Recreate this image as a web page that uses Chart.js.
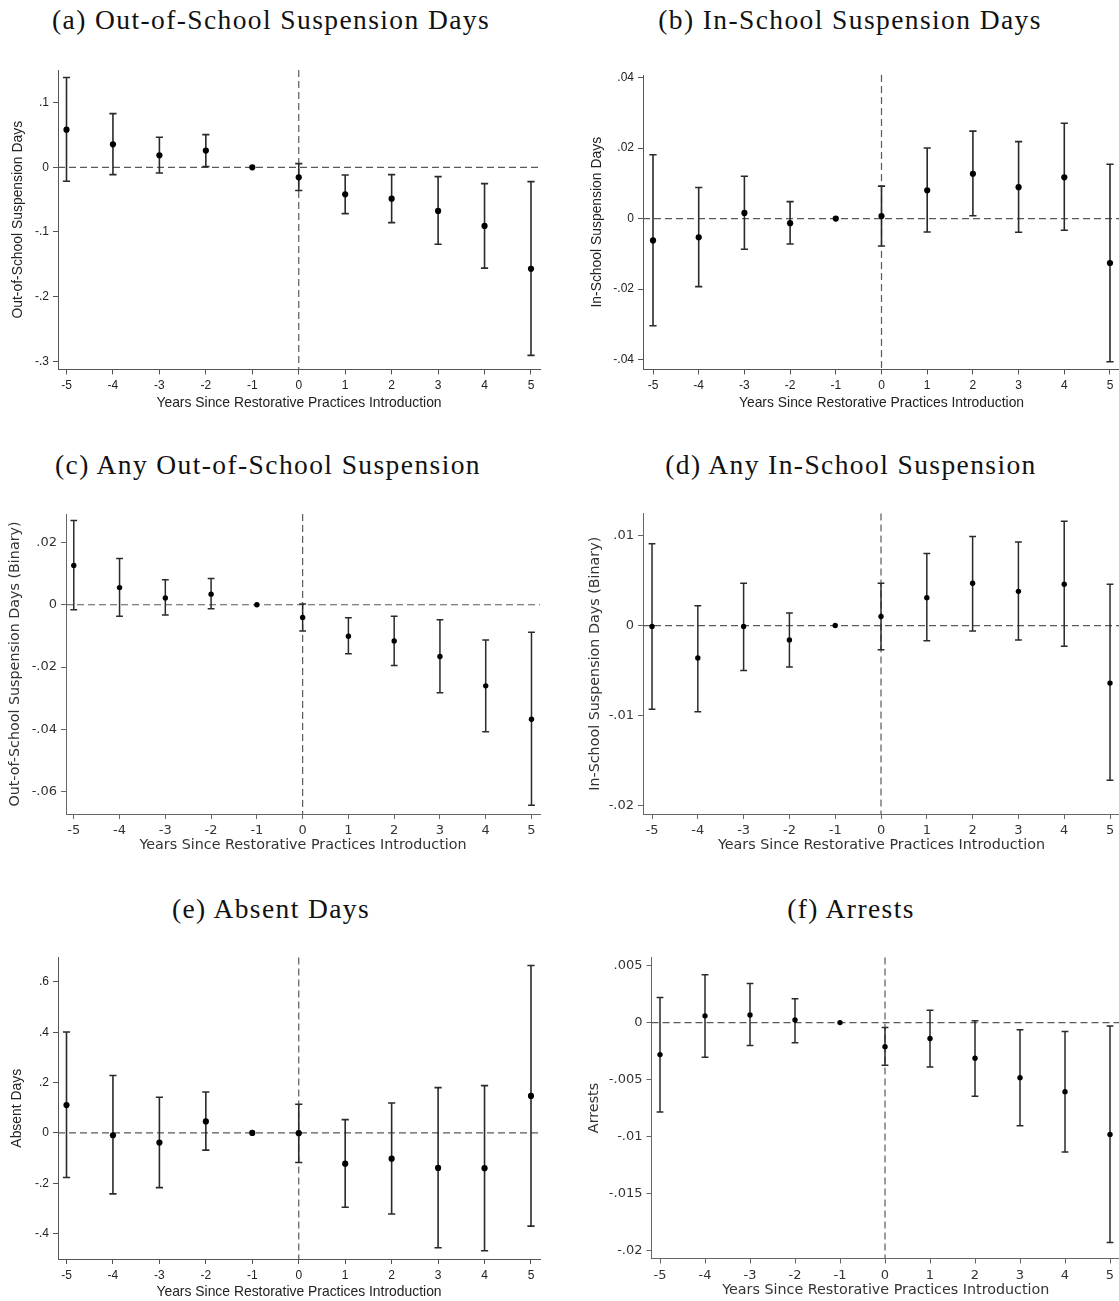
<!DOCTYPE html>
<html><head><meta charset="utf-8">
<script src="https://cdn.jsdelivr.net/npm/chart.js@4.4.1/dist/chart.umd.min.js"></script>
<style>
html,body{margin:0;padding:0;background:#fff;width:1119px;height:1301px;overflow:hidden;position:relative;}
canvas{position:absolute;}
.ttl{position:absolute;font-family:'Liberation Serif','Times New Roman',serif;font-size:27.5px;letter-spacing:1.4px;color:#111;white-space:nowrap;transform:translate(-50%,-50%);}
</style></head><body>
<div class="ttl" style="left:271px;top:20px">(a) Out-of-School Suspension Days</div>
<div class="ttl" style="left:850px;top:20px">(b) In-School Suspension Days</div>
<div class="ttl" style="left:268px;top:465px">(c) Any Out-of-School Suspension</div>
<div class="ttl" style="left:851px;top:465px">(d) Any In-School Suspension</div>
<div class="ttl" style="left:271px;top:909px">(e) Absent Days</div>
<div class="ttl" style="left:851px;top:909px">(f) Arrests</div>
<canvas id="cA"></canvas><canvas id="cB"></canvas><canvas id="cC"></canvas>
<canvas id="cD"></canvas><canvas id="cE"></canvas><canvas id="cF"></canvas>
<script>
// ---------- DATA ----------
const years = [-5,-4,-3,-2,-1,0,1,2,3,4,5];
const xTitle = 'Years Since Restorative Practices Introduction';

const oosDaysEst = [0.0582, 0.0356, 0.0186, 0.0258, 0, -0.0155, -0.0418, -0.0485, -0.0675, -0.0907, -0.157];
const oosDaysLo  = [-0.0216, -0.0113, -0.0088, 0.001, 0, -0.036, -0.0716, -0.0856, -0.119, -0.156, -0.291];
const oosDaysHi  = [0.139, 0.083, 0.0464, 0.0505, 0, 0.0057, -0.0119, -0.0113, -0.0144, -0.0253, -0.0222];
const oosDaysTicks = [0.1, 0, -0.1, -0.2, -0.3];

const issDaysEst = [-0.0062, -0.0053, 0.0016, -0.0013, 0, 0.0007, 0.008, 0.0127, 0.0089, 0.0117, -0.0126];
const issDaysLo  = [-0.0304, -0.0193, -0.0087, -0.0072, 0, -0.0078, -0.0038, 0.0008, -0.0039, -0.0033, -0.0406];
const issDaysHi  = [0.0181, 0.0088, 0.012, 0.0048, 0, 0.0092, 0.020, 0.0248, 0.0218, 0.027, 0.0154];
const issDaysTicks = [0.04, 0.02, 0, -0.02, -0.04];

const anyOosEst = [0.0126, 0.0055, 0.0022, 0.0034, 0, -0.0041, -0.0101, -0.0116, -0.0166, -0.026, -0.0367];
const anyOosLo  = [-0.0016, -0.0037, -0.0033, -0.0013, 0, -0.0084, -0.0157, -0.0195, -0.0282, -0.0407, -0.0643];
const anyOosHi  = [0.027, 0.0148, 0.008, 0.0084, 0, 0.0002, -0.0042, -0.0037, -0.0048, -0.0113, -0.0088];
const anyOosTicks = [0.02, 0, -0.02, -0.04, -0.06];

const anyIssEst = [-0.0001, -0.0036, -0.0001, -0.0016, 0, 0.001, 0.0031, 0.0047, 0.0038, 0.0046, -0.0064];
const anyIssLo  = [-0.0093, -0.0096, -0.005, -0.0046, 0, -0.0027, -0.0017, -0.0006, -0.0016, -0.0023, -0.0172];
const anyIssHi  = [0.0091, 0.0022, 0.0047, 0.0014, 0, 0.0047, 0.008, 0.0099, 0.0093, 0.0116, 0.0046];
const anyIssTicks = [0.01, 0, -0.01, -0.02];

const absentEst = [0.111, -0.009, -0.038, 0.046, 0, -0.001, -0.122, -0.102, -0.139, -0.140, 0.147];
const absentLo  = [-0.177, -0.242, -0.217, -0.068, 0, -0.117, -0.295, -0.322, -0.456, -0.468, -0.370];
const absentHi  = [0.401, 0.228, 0.142, 0.163, 0, 0.114, 0.053, 0.119, 0.180, 0.188, 0.665];
const absentTicks = [0.6, 0.4, 0.2, 0, -0.2, -0.4];

const arrestsEst = [-0.00281, 0.00059, 0.00067, 0.00023, 0, -0.00211, -0.0014, -0.00313, -0.00483, -0.00606, -0.00981];
const arrestsLo  = [-0.00785, -0.00304, -0.00202, -0.00176, 0, -0.00375, -0.0039, -0.00647, -0.00905, -0.01136, -0.01929];
const arrestsHi  = [0.0022, 0.0042, 0.00343, 0.0021, 0, -0.00044, 0.00108, 0.00015, -0.00064, -0.00079, -0.00029];
const arrestsTicks = [0.005, 0, -0.005, -0.01, -0.015, -0.02];

// ---------- STYLE ----------
const styleArial = {family:"'Liberation Sans', Arial, sans-serif", tick:12, title:13.9, color:'#222', axis:'#555', pt:3.1, bar:1.6, cap:3.6};
const styleDejavu = {family:"'DejaVu Sans', sans-serif", tick:13, title:14.3, color:'#333', axis:'#666', pt:2.7, bar:1.5, cap:3.4};

function fmt(v){
  if (Math.abs(v) < 1e-12) return '0';
  const s = String(parseFloat(Number(v).toFixed(6)));
  return s.replace(/^(-?)0\./, '$1.');
}

function makePanel(id, sp){
  const cv = document.getElementById(id);
  cv.width = sp.cw; cv.height = sp.ch;
  cv.style.left = sp.cl + 'px'; cv.style.top = sp.ct + 'px';
  cv.style.width = sp.cw + 'px'; cv.style.height = sp.ch + 'px';
  const st = sp.style;
  const lh = st.title * 1.2;
  const yAxisW = sp.L - sp.cl;
  const xAxisH = (sp.ct + sp.ch) - sp.B;
  const padTop = sp.T - sp.ct;
  const padRight = (sp.cl + sp.cw) - sp.R;
  const yTitlePad = (sp.yTitleX - sp.cl) - lh/2;
  const xTitlePad = (sp.ct + sp.ch - sp.xTitleY) - lh/2;

  const errPlugin = {
    id: 'err_' + id,
    beforeDatasetsDraw(chart){
      const {ctx, chartArea:a} = chart;
      const xs = chart.scales.x, ys = chart.scales.y;
      ctx.save();
      ctx.strokeStyle = '#5a5a5a'; ctx.lineWidth = 1.2; ctx.setLineDash([7,4]);
      const y0 = ys.getPixelForValue(0), x0 = xs.getPixelForValue(0);
      ctx.beginPath(); ctx.moveTo(a.left, y0); ctx.lineTo(a.right, y0); ctx.stroke();
      ctx.beginPath(); ctx.moveTo(x0, a.top); ctx.lineTo(x0, a.bottom); ctx.stroke();
      ctx.setLineDash([]);
      ctx.strokeStyle = '#2a2a2a'; ctx.lineWidth = st.bar;
      sp.lo.forEach((lo, i) => {
        const hi = sp.hi[i];
        if (lo === hi) return;
        const px = xs.getPixelForValue(years[i]);
        const pl = ys.getPixelForValue(lo), ph = ys.getPixelForValue(hi);
        ctx.beginPath();
        ctx.moveTo(px, pl); ctx.lineTo(px, ph);
        ctx.moveTo(px - st.cap, pl); ctx.lineTo(px + st.cap, pl);
        ctx.moveTo(px - st.cap, ph); ctx.lineTo(px + st.cap, ph);
        ctx.stroke();
      });
      ctx.restore();
    }
  };

  const axisCommon = {
    type: 'linear',
    grid: {display:true, drawOnChartArea:false, drawTicks:true, tickLength:5, color:st.axis, lineWidth:1},
    border: {display:true, color:st.axis, width:1},
  };

  new Chart(cv, {
    type: 'scatter',
    data: { datasets: [{
      data: years.map((x, i) => ({x, y: sp.est[i]})),
      pointRadius: st.pt, pointHoverRadius: st.pt,
      backgroundColor: '#000', borderColor: '#000', borderWidth: 0,
      showLine: false
    }]},
    options: {
      responsive: false, animation: false, devicePixelRatio: 1,
      layout: {padding: {left:0, top:padTop, right:padRight, bottom:0}},
      plugins: {legend:{display:false}, tooltip:{enabled:false}},
      scales: {
        x: Object.assign({}, axisCommon, {
          min: sp.xmin, max: sp.xmax,
          afterBuildTicks: s => { s.ticks = years.map(v => ({value:v})); },
          afterFit: s => { s.height = xAxisH; },
          ticks: {callback: v => fmt(v), color: st.color, font:{family:st.family, size:st.tick}, padding:4, maxRotation:0, autoSkip:false},
          title: {display:true, text:xTitle, color:st.color, font:{family:st.family, size:st.title}, padding:{top:0, bottom:xTitlePad}}
        }),
        y: Object.assign({}, axisCommon, {
          min: sp.ymin, max: sp.ymax,
          afterBuildTicks: s => { s.ticks = sp.ticks.map(v => ({value:v})); },
          afterFit: s => { s.width = yAxisW; },
          ticks: {callback: v => fmt(v), color: st.color, font:{family:st.family, size:st.tick}, padding:4, autoSkip:false},
          title: {display:true, text:sp.yTitle, color:st.color, font:{family:st.family, size:st.title}, padding:{top:yTitlePad, bottom:0}}
        })
      }
    },
    plugins: [errPlugin]
  });
}

makePanel('cA', {cl:0, ct:50, cw:560, ch:380, L:58, T:70, R:540, B:369.5, yTitleX:18, xTitleY:403.5,
  xmin:-5.183, xmax:5.194, ymin:-0.3128, ymax:0.1505, ticks:oosDaysTicks,
  est:oosDaysEst, lo:oosDaysLo, hi:oosDaysHi, yTitle:'Out-of-School Suspension Days', style:styleArial});
makePanel('cB', {cl:580, ct:50, cw:545, ch:380, L:643, T:75, R:1120, B:369.5, yTitleX:597, xTitleY:403.5,
  xmin:-5.219, xmax:5.219, ymin:-0.0428, ymax:0.0407, ticks:issDaysTicks,
  est:issDaysEst, lo:issDaysLo, hi:issDaysHi, yTitle:'In-School Suspension Days', style:styleArial});
makePanel('cC', {cl:0, ct:495, cw:560, ch:380, L:66, T:514, R:540, B:814, yTitleX:15, xTitleY:845.5,
  xmin:-5.17, xmax:5.186, ymin:-0.0671, ymax:0.0291, ticks:anyOosTicks,
  est:anyOosEst, lo:anyOosLo, hi:anyOosHi, yTitle:'Out-of-School Suspension Days (Binary)', style:styleDejavu});
makePanel('cD', {cl:580, ct:495, cw:545, ch:380, L:643, T:513.5, R:1120, B:814, yTitleX:595, xTitleY:845.5,
  xmin:-5.197, xmax:5.218, ymin:-0.02096, ymax:0.01246, ticks:anyIssTicks,
  est:anyIssEst, lo:anyIssLo, hi:anyIssHi, yTitle:'In-School Suspension Days (Binary)', style:styleDejavu});
makePanel('cE', {cl:0, ct:940, cw:560, ch:361, L:58, T:957.5, R:540, B:1259, yTitleX:17, xTitleY:1292.5,
  xmin:-5.183, xmax:5.194, ymin:-0.5006, ymax:0.697, ticks:absentTicks,
  est:absentEst, lo:absentLo, hi:absentHi, yTitle:'Absent Days', style:styleArial});
makePanel('cF', {cl:580, ct:940, cw:545, ch:361, L:651.5, T:957.5, R:1120, B:1258.5, yTitleX:594, xTitleY:1290.5,
  xmin:-5.189, xmax:5.222, ymin:-0.0207, ymax:0.00571, ticks:arrestsTicks,
  est:arrestsEst, lo:arrestsLo, hi:arrestsHi, yTitle:'Arrests', style:styleDejavu});
</script>
</body></html>
